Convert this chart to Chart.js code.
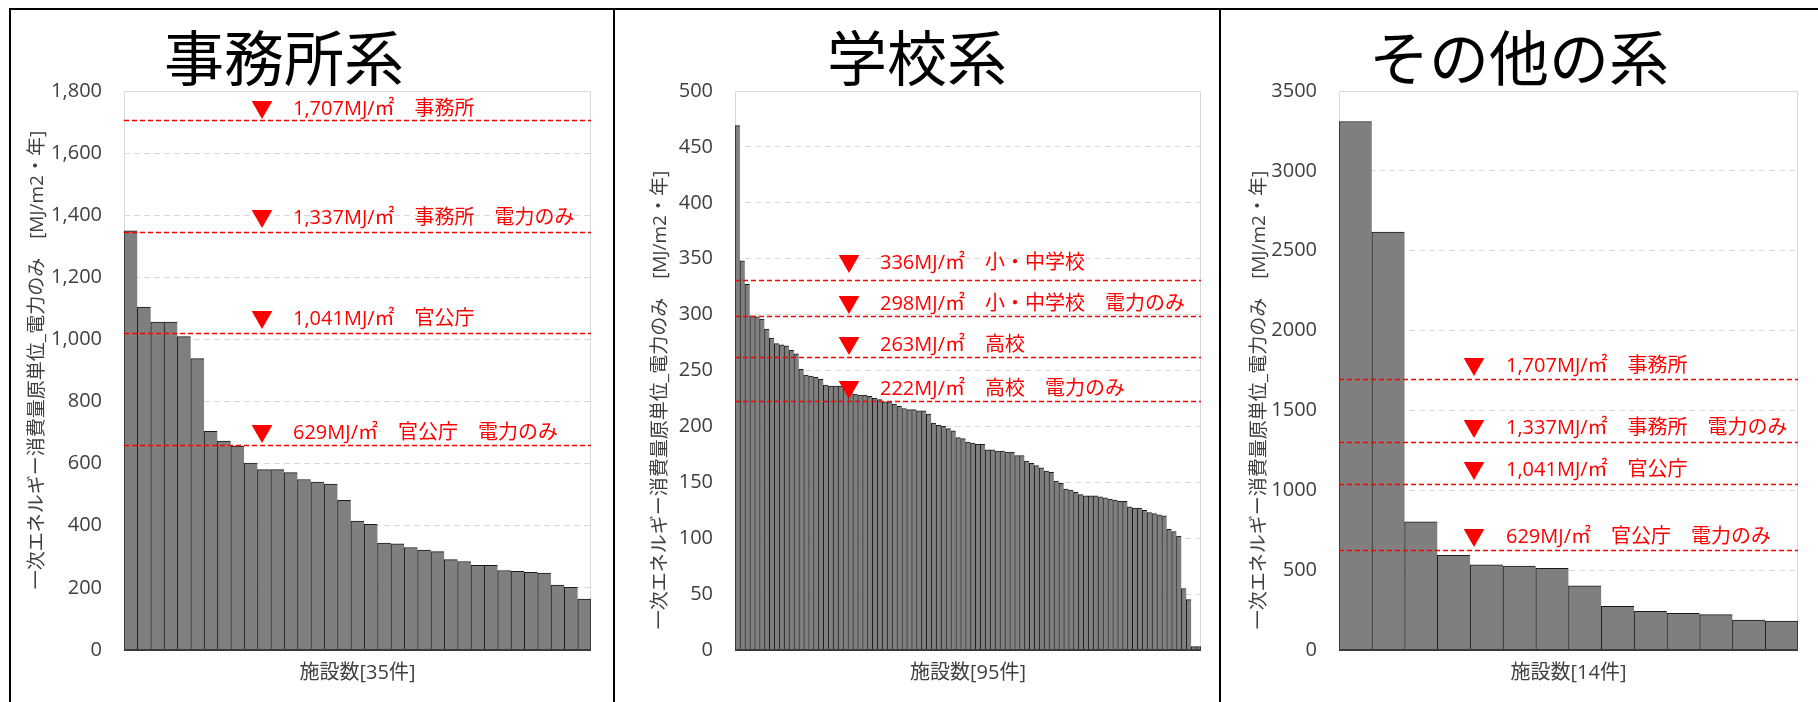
<!DOCTYPE html>
<html><head><meta charset="utf-8">
<script src="https://cdn.jsdelivr.net/npm/chart.js@4.4.1/dist/chart.umd.min.js"></script>
<style>
html,body{margin:0;padding:0;background:#fff;}
#wrap{position:relative;width:1818px;height:702px;overflow:hidden;background:#fff;}
canvas{position:absolute;top:0;}
.ln{position:absolute;background:#000;}
</style></head><body>
<div id="wrap">
<canvas id="c1" width="614" height="702" style="left:0px"></canvas>
<canvas id="c2" width="606" height="702" style="left:614px"></canvas>
<canvas id="c3" width="598" height="702" style="left:1220px"></canvas>
<div class="ln" style="left:9px;top:8px;width:1809px;height:2px"></div>
<div class="ln" style="left:9px;top:8px;width:2px;height:694px"></div>
<div class="ln" style="left:613px;top:8px;width:2px;height:694px"></div>
<div class="ln" style="left:1219px;top:8px;width:2px;height:694px"></div>
</div>
<script>
// ---- titles / axis text ----
const officeTitle = '事務所系';
const schoolTitle = '学校系';
const otherTitle = 'その他の系';
const yAxisTitle = '一次エネルギー消費量原単位_電力のみ　[MJ/m2・年]';
const officeXTitle = '施設数[35件]';
const schoolXTitle = '施設数[95件]';
const otherXTitle = '施設数[14件]';

// ---- series values (sorted facility values, MJ/m2・年) ----
const officeValues = [1350,1104,1056,1056,1009,938,704,673,657,602,581,581,571,549,541,534,482,415,405,344,342,330,322,317,291,285,273,273,256,253,250,248,209,202,164];
const schoolValues = [469,348,327,299,298,296,287,279,274,273,
  272,268,265,251,246,245,244,242,237,236,
  236,236,234,231,229,228,228,227,225,224,
  222,222,220,218,216,215,215,214,214,211,
  203,201,200,198,196,190,189,186,185,184,
  184,179,179,178,178,177,177,174,174,169,
  167,165,163,160,159,151,149,144,143,141,
  139,138,138,138,137,136,135,134,133,133,
  128,127,127,125,123,122,121,120,108,106,
  102,55,45,3,3];
const otherValues = [3309,2616,802,592,533,525,512,402,273,242,229,221,188,181];

// ---- y axis ranges ----
const officeYMax = 1800, officeYStep = 200;
const schoolYMax = 500, schoolYStep = 50;
const otherYMax = 3500, otherYStep = 500;

// ---- reference lines (as drawn) and their labels ----
const officeRefLines = [1707, 1345, 1021, 660];
const officeRefLabels = ['1,707MJ/㎡　事務所', '1,337MJ/㎡　事務所　電力のみ', '1,041MJ/㎡　官公庁', '629MJ/㎡　官公庁　電力のみ'];
const schoolRefLines = [331, 298.5, 262, 222.4];
const schoolRefLabels = ['336MJ/㎡　小・中学校', '298MJ/㎡　小・中学校　電力のみ', '263MJ/㎡　高校', '222MJ/㎡　高校　電力のみ'];
const otherRefLines = [1696, 1304, 1040, 629];
const otherRefLabels = ['1,707MJ/㎡　事務所', '1,337MJ/㎡　事務所　電力のみ', '1,041MJ/㎡　官公庁', '629MJ/㎡　官公庁　電力のみ'];

const FONT = '"Open Sans", "Noto Sans CJK JP", sans-serif';
const JFONT = '"Noto Sans CJK JP", sans-serif';

const decor = {
  id: 'decor',
  beforeDatasetsDraw(chart, args, o) {
    const {ctx, chartArea: a} = chart;
    ctx.save();
    ctx.strokeStyle = '#d9d9d9';
    ctx.lineWidth = 1;
    ctx.beginPath();
    ctx.moveTo(a.left + 0.5, a.bottom);
    ctx.lineTo(a.left + 0.5, a.top + 0.5);
    ctx.lineTo(a.right - 0.5, a.top + 0.5);
    ctx.lineTo(a.right - 0.5, a.bottom);
    ctx.stroke();
    ctx.restore();
  },
  afterDatasetsDraw(chart, args, o) {
    const {ctx, chartArea: a} = chart;
    const y = chart.scales.y;
    ctx.save();
    // bottom axis line
    ctx.strokeStyle = '#3a3a3a';
    ctx.lineWidth = 2;
    ctx.beginPath();
    ctx.moveTo(a.left, a.bottom);
    ctx.lineTo(a.right, a.bottom);
    ctx.stroke();
    o.lines.forEach((v, i) => {
      const py = Math.round(y.getPixelForValue(v)) + 0.5;
      const ly = py + o.labelDy[i];
      ctx.strokeStyle = '#ff0000';
      ctx.lineWidth = 1.5;
      ctx.setLineDash([5, 3]);
      ctx.beginPath();
      ctx.moveTo(a.left, py);
      ctx.lineTo(a.right, py);
      ctx.stroke();
      ctx.setLineDash([]);
      ctx.fillStyle = '#ff0000';
      ctx.textBaseline = 'middle';
      ctx.textAlign = 'center';
      ctx.font = '22px ' + JFONT;
      ctx.fillText('▼', o.triX, ly - 1);
      ctx.textAlign = 'left';
      ctx.font = '20px ' + FONT;
      ctx.fillText(o.labels[i], o.textX, ly);
    });
    ctx.restore();
  },
  afterDraw(chart, args, o) {
    const ctx = chart.ctx;
    ctx.save();
    ctx.fillStyle = '#000';
    ctx.textAlign = 'center';
    ctx.textBaseline = 'middle';
    ctx.font = '60px ' + JFONT;
    ctx.fillText(o.title, o.titleX, o.titleY);
    ctx.translate(o.yTitleX, o.yTitleY);
    ctx.rotate(-Math.PI / 2);
    ctx.fillStyle = '#404040';
    ctx.font = '19px ' + FONT;
    ctx.fillText(yAxisTitle, 0, 0);
    ctx.restore();
  }
};

function makeChart(id, values, yMax, yStep, fmt, xTitle, leftW, padRight, deco) {
  const n = values.length;
  const labels = values.map((_, i) => String(i + 1));
  return new Chart(document.getElementById(id), {
    type: 'bar',
    data: {
      labels: labels,
      datasets: [{
        data: values,
        backgroundColor: '#7f7f7f',
        borderColor: '#1a1a1a',
        borderWidth: (c) => ({left: 1, right: c.dataIndex === n - 1 ? 1 : 0, top: 1, bottom: 0}),
        borderSkipped: false,
        barPercentage: 1,
        categoryPercentage: 1
      }]
    },
    options: {
      responsive: false,
      animation: false,
      devicePixelRatio: 1,
      layout: {padding: {left: 0, right: padRight, top: 91, bottom: 0}},
      plugins: {legend: {display: false}, tooltip: {enabled: false}, title: {display: false}, decor: deco},
      scales: {
        x: {
          grid: {display: false},
          border: {display: false},
          ticks: {display: false},
          title: {display: true, text: xTitle, color: '#404040', font: {family: FONT, size: 20}, padding: {top: 0, bottom: 17}},
          afterFit: (s) => { s.height = 52; }
        },
        y: {
          min: 0, max: yMax,
          grid: {drawTicks: false, color: (c) => (c.tick && (c.tick.value === 0 || c.tick.value === yMax)) ? 'rgba(0,0,0,0)' : '#d9d9d9', lineWidth: 1},
          border: {display: false, dash: [6, 4]},
          ticks: {stepSize: yStep, padding: 22, color: '#404040', font: {family: FONT, size: 20}, callback: fmt},
          afterFit: (s) => { s.width = leftW; }
        }
      }
    },
    plugins: [decor]
  });
}

makeChart('c1', officeValues, officeYMax, officeYStep, (v) => Number(v).toLocaleString('en-US'), officeXTitle, 124, 23,
  {lines: officeRefLines, labels: officeRefLabels, labelDy: [-11, -14, -14, -12], triX: 262, textX: 293, title: officeTitle, titleX: 284, titleY: 58, yTitleX: 38, yTitleY: 360});
makeChart('c2', schoolValues, schoolYMax, schoolYStep, (v) => String(v), schoolXTitle, 121, 19,
  {lines: schoolRefLines, labels: schoolRefLabels, labelDy: [-17, -12, -12, -12], triX: 235, textX: 266, title: schoolTitle, titleX: 303, titleY: 58, yTitleX: 47, yTitleY: 400});
makeChart('c3', otherValues, otherYMax, otherYStep, (v) => String(v), otherXTitle, 119, 20,
  {lines: otherRefLines, labels: otherRefLabels, labelDy: [-13, -14, -14, -13], triX: 254, textX: 286, title: otherTitle, titleX: 299, titleY: 58, yTitleX: 40, yTitleY: 400});
</script>
</body></html>
